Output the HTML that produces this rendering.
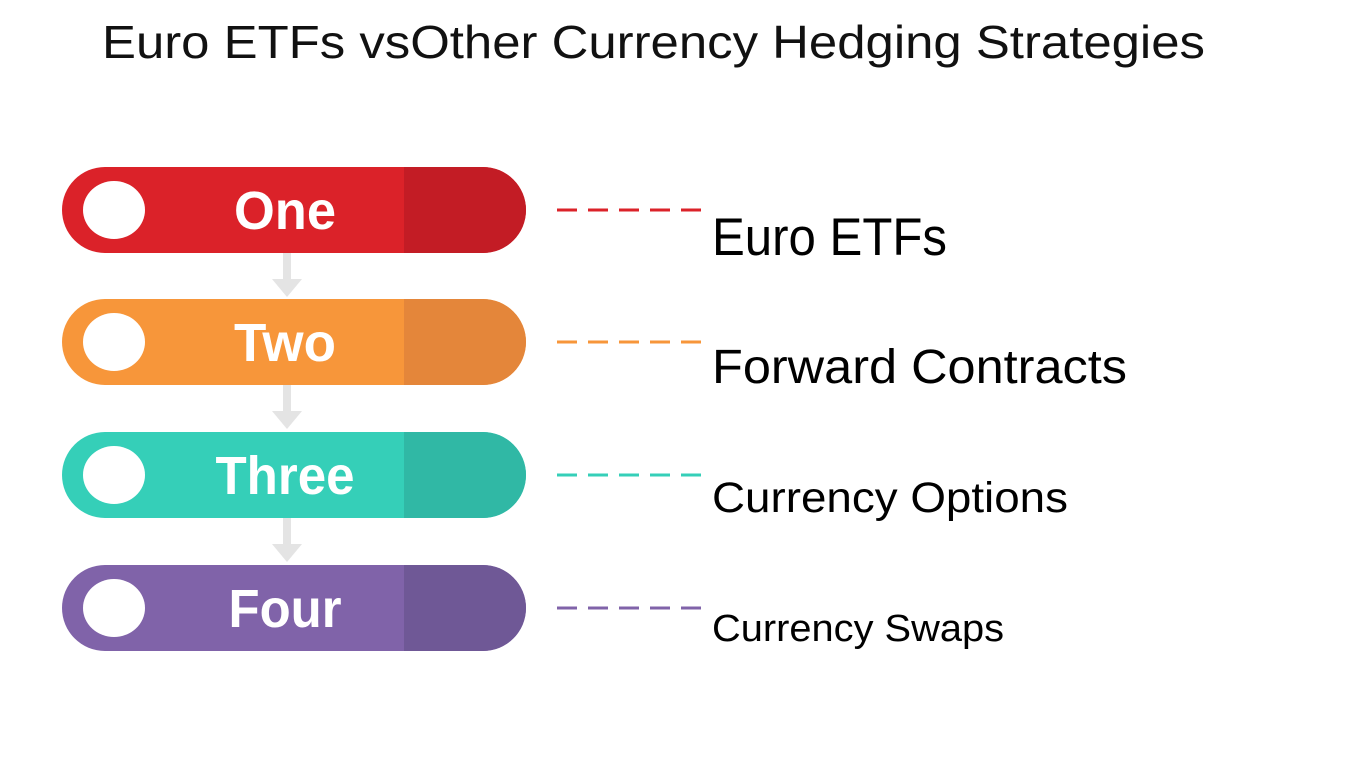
<!DOCTYPE html>
<html><head><meta charset="utf-8"><style>
html,body{margin:0;padding:0;background:#fff;}
svg{display:block;}
</style></head><body>
<svg width="1350" height="759" viewBox="0 0 1350 759">
<text x="102" y="58" font-family="Liberation Sans, sans-serif" font-size="46" fill="#111" textLength="1103" lengthAdjust="spacingAndGlyphs">Euro ETFs vsOther Currency Hedging Strategies</text>
<g id="steps"></g>
</svg>
<script>
const stepLabels = ["One","Two","Three","Four"];
const itemLabels = ["Euro ETFs","Forward Contracts","Currency Options","Currency Swaps"];
const mainColors = ["#db2229","#f7963a","#35cfb8","#8063a9"];
const darkColors = ["#c31c25","#e4863a","#30b8a5","#6f5896"];
const labelSizes = [53,48,43,38];
const labelWidths = [235,415,356,292];
const stepWidths = [102,102,139,113];
const NS="http://www.w3.org/2000/svg";
const g=document.getElementById('steps');
function mk(t,a){const e=document.createElementNS(NS,t);for(const k in a)e.setAttribute(k,a[k]);return e;}
const tops=[167,299,432,565];
const baselines=[255,383,512,641];
for(let i=0;i<4;i++){
  const y=tops[i], h=86, cy=y+h/2;
  if(i<3){
    const ar=mk('path',{d:`M283 ${y+h} L291 ${y+h} L291 ${y+h+26} L302 ${y+h+26} L287 ${y+h+44} L272 ${y+h+26} L283 ${y+h+26} Z`,fill:'#e4e4e4'});
    
    
    g.appendChild(ar);
  }
  const pill=mk('rect',{x:62,y:y,width:464,height:h,rx:43,fill:mainColors[i]});
  
  
  g.appendChild(pill);
  const clipId='c'+i;
  const cp=mk('clipPath',{id:clipId});cp.appendChild(mk('rect',{x:62,y:y,width:464,height:h,rx:43}));g.appendChild(cp);
  const dk=mk('rect',{x:404,y:y,width:130,height:h,fill:darkColors[i],'clip-path':`url(#${clipId})`});
  
  
  g.appendChild(dk);
  const c=mk('ellipse',{cx:114,cy:cy,rx:31,ry:29,fill:'#fff'});
  
  
  g.appendChild(c);
  const t=mk('text',{x:285,y:cy+19,'text-anchor':'middle','font-family':'Liberation Sans Narrow, Liberation Sans, sans-serif','font-weight':'bold','font-size':'54',fill:'#fff',textLength:stepWidths[i],lengthAdjust:'spacingAndGlyphs'});
  t.textContent=stepLabels[i];
  
  
  g.appendChild(t);
  const ln=mk('line',{x1:557,y1:cy,x2:703,y2:cy,stroke:mainColors[i],'stroke-width':3,'stroke-dasharray':'20 11'});
  
  
  g.appendChild(ln);
  const lt=mk('text',{x:712,y:baselines[i],'font-family':'Liberation Sans, DejaVu Sans, sans-serif','font-size':labelSizes[i],fill:'#000',textLength:labelWidths[i],lengthAdjust:'spacingAndGlyphs'});
  lt.textContent=itemLabels[i];
  
  
  g.appendChild(lt);
}
</script>
</body></html>
